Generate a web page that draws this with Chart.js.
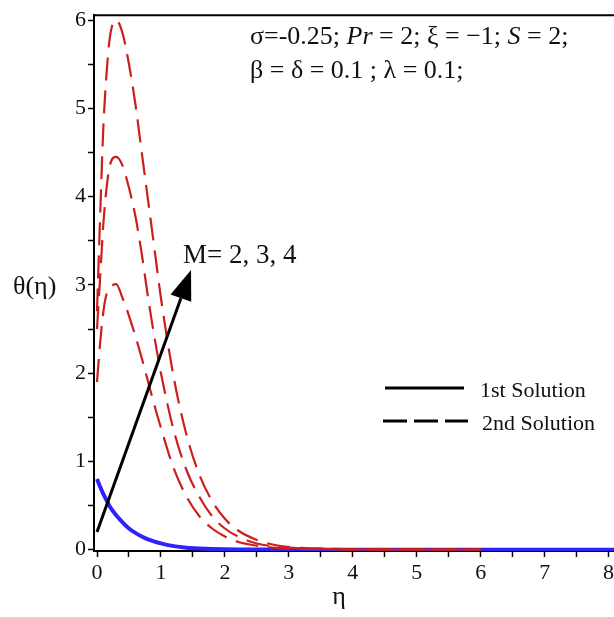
<!DOCTYPE html>
<html>
<head>
<meta charset="utf-8">
<script src="https://cdn.jsdelivr.net/npm/chart.js@4"></script>
<style>
html, body { margin: 0; padding: 0; overflow: hidden; background: #fff; }
canvas { display: block; }
</style>
</head>
<body>
<canvas id="thetaChart" width="640" height="617"></canvas>
<script>
// eta grid the curves were read on
const eta = [0, 0.05, 0.1, 0.15, 0.2, 0.3, 0.4, 0.5, 0.6, 0.7, 0.8, 0.9, 1.0, 1.2, 1.4, 1.6, 1.8, 2.0, 2.2, 2.5, 2.8, 3.2, 3.6, 4, 5, 6, 7, 8.2];

// 1st solution (the three M values lie on top of each other)
const firstSolution = [0.8, 0.71, 0.63, 0.56, 0.49, 0.39, 0.31, 0.24, 0.19, 0.15, 0.117, 0.092, 0.072, 0.04, 0.022, 0.013, 0.008, 0.005, 0.003, 0.002, 0.001, 0, 0, 0, 0, 0, 0, 0];

// 2nd solution, M = 2, 3, 4 (stops at eta = 6)
const secondM2 = [1.9, 2.35, 2.7, 2.9, 2.97, 3.01, 2.85, 2.65, 2.42, 2.17, 1.9, 1.63, 1.38, 0.92, 0.6, 0.38, 0.24, 0.15, 0.09, 0.045, 0.02, 0.01, 0.005, 0.002, 0, 0, null, null];
const secondM3 = [2.5, 3.1, 3.7, 4.1, 4.35, 4.45, 4.35, 4.1, 3.78, 3.35, 2.85, 2.4, 2.0, 1.35, 0.9, 0.6, 0.38, 0.24, 0.15, 0.07, 0.035, 0.015, 0.007, 0.003, 0.001, 0, null, null];
const secondM4 = [2.7, 3.8, 4.8, 5.4, 5.8, 6.0, 5.85, 5.5, 5.05, 4.5, 3.95, 3.4, 2.85, 1.95, 1.3, 0.85, 0.55, 0.35, 0.22, 0.11, 0.05, 0.02, 0.01, 0.005, 0.002, 0.001, null, null];

const xTickValues = [0, 0.5, 1, 1.5, 2, 2.5, 3, 3.5, 4, 4.5, 5, 5.5, 6, 6.5, 7, 7.5, 8];
const yTickValues = [0, 0.5, 1, 1.5, 2, 2.5, 3, 3.5, 4, 4.5, 5, 5.5, 6];

const arrowFrom = { x: 0, y: 0.2 };
const arrowTo = { x: 1.47, y: 3.17 };

const serif = "'Liberation Serif', 'DejaVu Serif', serif";
const red = "rgb(205, 30, 30)";
const blue = "rgb(45, 35, 250)";

function toPoints(values) {
    return eta.map((x, i) => ({ x: x, y: values[i] }));
}

function redLine(label, values) {
    return {
        label: label,
        data: toPoints(values),
        borderColor: red,
        borderWidth: 2.2,
        borderDash: [23, 10],
        pointRadius: 0,
        fill: false,
        spanGaps: false,
        cubicInterpolationMode: "monotone"
    };
}

// draws text pieces one after another, some in italic
function drawPieces(ctx, pieces, x, y, size) {
    let cx = x;
    pieces.forEach(p => {
        ctx.font = (p.italic ? "italic " : "") + size + "px " + serif;
        ctx.fillText(p.t, cx, y);
        cx += ctx.measureText(p.t).width;
    });
}

const decorations = {
    id: "decorations",
    afterDraw(chart) {
        const ctx = chart.ctx;
        const area = chart.chartArea;
        const xs = chart.scales.x;
        const ys = chart.scales.y;

        ctx.save();

        // top frame line
        ctx.strokeStyle = "#000";
        ctx.lineWidth = 2;
        ctx.beginPath();
        ctx.moveTo(area.left - 1, area.top);
        ctx.lineTo(area.right, area.top);
        ctx.stroke();

        ctx.fillStyle = "#111";
        ctx.textBaseline = "alphabetic";
        ctx.textAlign = "left";

        // parameters
        drawPieces(ctx, [
            { t: "\u03c3=-0.25; " },
            { t: "Pr", italic: true },
            { t: " = 2; \u03be = \u22121; " },
            { t: "S", italic: true },
            { t: " = 2;" }
        ], 250, 44, 26);
        drawPieces(ctx, [
            { t: "\u03b2 = \u03b4 = 0.1 ; \u03bb = 0.1;" }
        ], 250, 78, 26);

        // arrow
        const x0 = xs.getPixelForValue(arrowFrom.x);
        const y0 = ys.getPixelForValue(arrowFrom.y);
        const x1 = xs.getPixelForValue(arrowTo.x);
        const y1 = ys.getPixelForValue(arrowTo.y);
        const ang = Math.atan2(y1 - y0, x1 - x0);
        const headLen = 30;
        const headW = 11;
        const bx = x1 - headLen * Math.cos(ang);
        const by = y1 - headLen * Math.sin(ang);
        ctx.strokeStyle = "#000";
        ctx.lineWidth = 3;
        ctx.beginPath();
        ctx.moveTo(x0, y0);
        ctx.lineTo(bx, by);
        ctx.stroke();
        ctx.fillStyle = "#000";
        ctx.beginPath();
        ctx.moveTo(x1, y1);
        ctx.lineTo(bx + headW * Math.sin(ang), by - headW * Math.cos(ang));
        ctx.lineTo(bx - headW * Math.sin(ang), by + headW * Math.cos(ang));
        ctx.closePath();
        ctx.fill();

        ctx.fillStyle = "#111";
        drawPieces(ctx, [{ t: "M= 2, 3, 4" }], 183, 263, 27);

        // legend
        ctx.strokeStyle = "#000";
        ctx.lineWidth = 3;
        ctx.beginPath();
        ctx.moveTo(385, 388);
        ctx.lineTo(464, 388);
        ctx.stroke();
        ctx.setLineDash([24, 7]);
        ctx.beginPath();
        ctx.moveTo(383, 421);
        ctx.lineTo(468, 421);
        ctx.stroke();
        ctx.setLineDash([]);
        drawPieces(ctx, [{ t: "1st Solution" }], 480, 397, 22);
        drawPieces(ctx, [{ t: "2nd Solution" }], 482, 430, 22);

        // axis titles
        drawPieces(ctx, [{ t: "\u03b8(\u03b7)" }], 13, 294, 26);
        ctx.textAlign = "center";
        ctx.font = "26px " + serif;
        ctx.fillText("\u03b7", 339, 604);

        ctx.restore();
    }
};

const ctx = document.getElementById("thetaChart").getContext("2d");

new Chart(ctx, {
    type: "line",
    data: {
        datasets: [
            redLine("2nd Solution M=2", secondM2),
            redLine("2nd Solution M=3", secondM3),
            redLine("2nd Solution M=4", secondM4),
            {
                label: "1st Solution",
                data: toPoints(firstSolution),
                borderColor: blue,
                borderWidth: 4,
                pointRadius: 0,
                fill: false,
                cubicInterpolationMode: "monotone"
            }
        ]
    },
    options: {
        responsive: false,
        animation: false,
        layout: {
            padding: { top: 7, right: 25, left: 0, bottom: 0 }
        },
        plugins: {
            legend: { display: false },
            tooltip: { enabled: false }
        },
        scales: {
            x: {
                type: "linear",
                min: -0.047,
                max: 8.1,
                afterBuildTicks: axis => {
                    axis.ticks = xTickValues.map(v => ({ value: v }));
                },
                afterFit: axis => {
                    axis.height = 66;
                },
                ticks: {
                    autoSkip: false,
                    maxRotation: 0,
                    padding: 3,
                    color: "#111",
                    font: { family: serif, size: 22 },
                    callback: v => Number.isInteger(v) ? String(v) : ""
                },
                grid: {
                    drawOnChartArea: false,
                    drawTicks: true,
                    tickLength: 6,
                    tickColor: "#000",
                    tickWidth: 1.5
                },
                border: { display: true, color: "#000", width: 2 }
            },
            y: {
                type: "linear",
                min: -0.015,
                max: 6.056,
                afterBuildTicks: axis => {
                    axis.ticks = yTickValues.map(v => ({ value: v }));
                },
                afterFit: axis => {
                    axis.width = 94;
                },
                ticks: {
                    autoSkip: false,
                    padding: 2,
                    color: "#111",
                    font: { family: serif, size: 22 },
                    callback: v => Number.isInteger(v) ? String(v) : ""
                },
                grid: {
                    drawOnChartArea: false,
                    drawTicks: true,
                    tickLength: 6,
                    tickColor: "#000",
                    tickWidth: 1.5
                },
                border: { display: true, color: "#000", width: 2 }
            }
        }
    },
    plugins: [decorations]
});
</script>
</body>
</html>
